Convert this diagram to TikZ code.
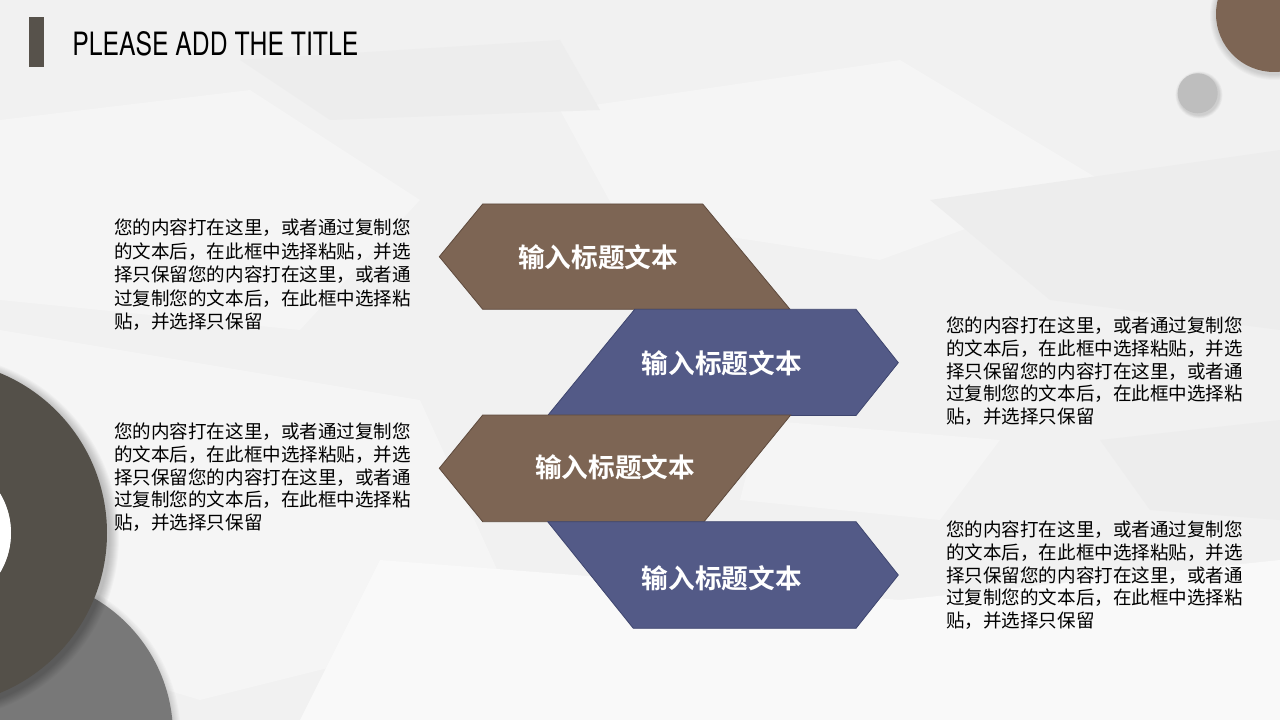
\documentclass[tikz,border=0pt]{standalone}
\usepackage{fontspec}
\newfontfamily\cjk{Noto Sans CJK SC}
\newfontfamily\cjkb{Noto Sans CJK SC Bold}
\newfontfamily\titlefont{TeX Gyre Heros}
\definecolor{bgbase}{HTML}{F1F1F1}
\definecolor{facetA}{HTML}{F5F5F5}
\definecolor{facetB}{HTML}{EDEDED}
\definecolor{facetC}{HTML}{F9F9F9}
\definecolor{brownfill}{HTML}{7D6554}
\definecolor{brownline}{HTML}{5E4A3D}
\definecolor{bluefill}{HTML}{535A87}
\definecolor{blueline}{HTML}{3E456E}
\definecolor{darkring}{HTML}{545049}
\definecolor{graycircle}{HTML}{787878}
\definecolor{lightcircle}{HTML}{BEBEBE}
\definecolor{barcol}{HTML}{57524B}
\tikzset{
  brownshape/.style={fill=brownfill, draw=brownline, line width=0.6pt},
  blueshape/.style={fill=bluefill, draw=blueline, line width=0.6pt},
  shapelabel/.style={text=white, font={\cjkb\fontsize{20pt}{23pt}\selectfont}, inner sep=0pt},
  bodytext/.style={anchor=north west, inner sep=0pt, align=left, text=black,
    font={\cjk\fontsize{13.9pt}{16.9pt}\selectfont}},
  bodytextwide/.style={bodytext, font={\cjk\fontsize{13.9pt}{17.6pt}\selectfont}},
}
\begin{document}
\begin{tikzpicture}[x=0.75pt, y=-0.75pt]
\useasboundingbox (0,0) rectangle (1280,720);
% background
\fill[bgbase] (0,0) rectangle (1280,720);
\fill[facetA] (0,120) -- (250,90) -- (420,200) -- (300,330) -- (0,300) -- cycle;
\fill[facetA] (560,110) -- (900,60) -- (1100,180) -- (880,260) -- (620,220) -- cycle;
\fill[facetB] (930,200) -- (1280,150) -- (1280,330) -- (1050,300) -- cycle;
\fill[facetA] (0,330) -- (420,400) -- (520,620) -- (200,700) -- (0,640) -- cycle;
\fill[facetC] (380,560) -- (900,600) -- (1280,560) -- (1280,720) -- (300,720) -- cycle;
\fill[facetA] (760,420) -- (1000,440) -- (940,520) -- (740,500) -- cycle;
\fill[facetB] (1100,440) -- (1280,420) -- (1280,520) -- (1150,510) -- cycle;
\fill[facetB] (240,60) -- (560,40) -- (600,110) -- (330,120) -- cycle;

% decorative circles
\foreach \k in {1,...,6} {
  \fill[black, opacity=0.025] (1274,16) circle ({58+\k});
  \fill[black, opacity=0.025] (1199,95) circle ({20+0.6*\k});
}
\fill[brownfill] (1274,14) circle (58);
\fill[lightcircle] (1197.7,93.3) circle (20);

\foreach \k in {1,...,8} {
  \fill[black, opacity=0.02] (15,738) circle ({158+\k});
}
\fill[graycircle] (15,735) circle (158);
\foreach \k in {1,...,10} {
  \fill[black, opacity=0.025] (-64,537) circle ({173+\k});
}
\fill[darkring, even odd rule] (-66,533) circle (173) (-66,533) circle (77);
\fill[white] (-66,533) circle (77);

% title
\fill[barcol] (29,17) rectangle (44,67);
\node[anchor=south west, inner sep=0pt] (title) at (72,56)
  {\resizebox{214.5pt}{18pt}{\titlefont PLEASE ADD THE TITLE}};

% shapes
\path[brownshape] (439.3,256.7) -- (482.7,204) -- (702.7,204) -- (790,309.3) -- (482.7,309.3) -- cycle;
\path[blueshape] (634.7,309.3) -- (856,309.3) -- (898.3,362.7) -- (856,415.5) -- (547.7,415.5) -- cycle;
\path[brownshape] (439.3,468.3) -- (482.7,415) -- (790.7,415) -- (704,521.7) -- (482.7,521.7) -- cycle;
\path[blueshape] (547.7,521.7) -- (856,521.7) -- (898.3,575) -- (856,628.3) -- (633.3,628.3) -- cycle;

\node[shapelabel] (l1) at (598,257) {输入标题文本};
\node[shapelabel] (l2) at (721.7,363) {输入标题文本};
\node[shapelabel] (l3) at (615,467) {输入标题文本};
\node[shapelabel] (l4) at (721.7,578) {输入标题文本};

% body texts
\node[bodytextwide] (t1) at (114,219) {您的内容打在这里，或者通过复制您\\的文本后，在此框中选择粘贴，并选\\择只保留您的内容打在这里，或者通\\过复制您的文本后，在此框中选择粘\\贴，并选择只保留};
\node[bodytext] (t2) at (114,423) {您的内容打在这里，或者通过复制您\\的文本后，在此框中选择粘贴，并选\\择只保留您的内容打在这里，或者通\\过复制您的文本后，在此框中选择粘\\贴，并选择只保留};
\node[bodytext] (t3) at (946,317) {您的内容打在这里，或者通过复制您\\的文本后，在此框中选择粘贴，并选\\择只保留您的内容打在这里，或者通\\过复制您的文本后，在此框中选择粘\\贴，并选择只保留};
\node[bodytext] (t4) at (946,521) {您的内容打在这里，或者通过复制您\\的文本后，在此框中选择粘贴，并选\\择只保留您的内容打在这里，或者通\\过复制您的文本后，在此框中选择粘\\贴，并选择只保留};
\end{tikzpicture}
\end{document}
